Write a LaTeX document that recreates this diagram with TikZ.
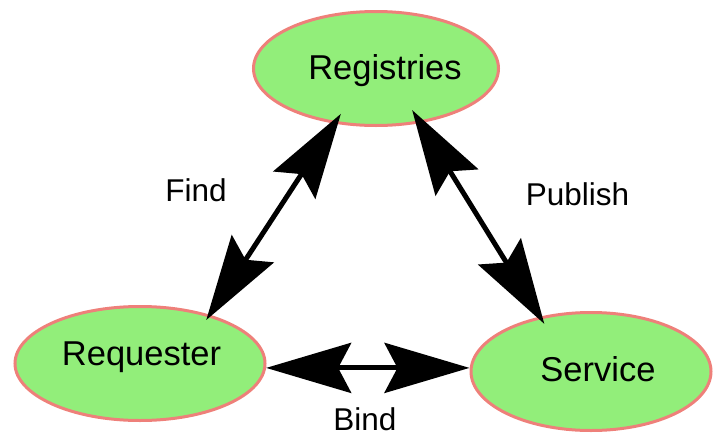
\documentclass[tikz,border=0pt]{standalone}
\usepackage{fontspec}
\setmainfont{Liberation Sans}
\usetikzlibrary{arrows.meta,shapes.geometric}

\definecolor{nodefill}{RGB}{146,238,122}
\definecolor{nodeline}{RGB}{238,128,122}

\tikzset{
  actor/.style={ellipse, draw=nodeline, fill=nodefill, line width=3pt, inner sep=0pt},
  actortext/.style={anchor=base, inner sep=0pt, font=\fontsize{34.5}{41}\selectfont},
  edgetext/.style={anchor=base, inner sep=0pt, font=\fontsize{31.5}{38}\selectfont},
  link/.style={line width=5pt, {Stealth[length=85pt, width=50pt, inset=13pt]}-{Stealth[length=85pt, width=50pt, inset=13pt]}}
}

\begin{document}
\begin{tikzpicture}[x=1pt, y=-1pt]
  \useasboundingbox (0,0) rectangle (713,434);

  % the three parties
  \node[actor, minimum width=245pt, minimum height=114pt] (reg) at (376,68.5) {};
  \node[actor, minimum width=250pt, minimum height=114pt] (req) at (140,363.5) {};
  \node[actor, minimum width=240pt, minimum height=118pt] (svc) at (591,371.5) {};

  \node[actortext] (regtext) at (385,79) {Registries};
  \node[actortext] (reqtext) at (141.5,365) {Requester};
  \node[actortext] (svctext) at (598,381) {Service};

  % interactions between them
  \draw[link, shorten <=-6.4pt, shorten >=-11.7pt] (req.35) -- (reg.233);
  \draw[link, shorten <=-15.4pt, shorten >=-8.5pt] (reg.309) -- (svc.133);
  \draw[link] (req.-2.5) -- (req.-2.5 -| svc.west);

  \node[edgetext] (find) at (196,201.5) {Find};
  \node[edgetext] (publish) at (577.5,205) {Publish};
  \node[edgetext] (bind) at (365,430) {Bind};
\end{tikzpicture}
\end{document}
